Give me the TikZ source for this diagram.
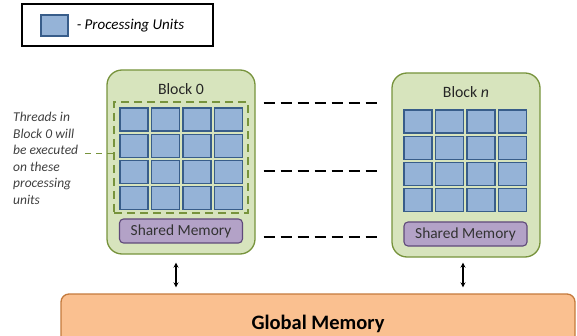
\documentclass[tikz,border=0pt]{standalone}
\usepackage{fontspec}
\setmainfont{Carlito}
\usetikzlibrary{positioning}

\definecolor{blockfill}{HTML}{D7E4BD}
\definecolor{blockline}{HTML}{77933C}
\definecolor{unitfill}{HTML}{95B3D7}
\definecolor{unitline}{HTML}{385D8A}
\definecolor{sharedfill}{HTML}{B3A2C7}
\definecolor{sharedline}{HTML}{5F497A}
\definecolor{gmemfill}{HTML}{FAC090}
\definecolor{gmemline}{HTML}{C47A3C}
\definecolor{notetext}{HTML}{404040}

\begin{document}
\begin{tikzpicture}
  [
    x=1pt, y=-1pt,
    >=stealth,
    block/.style  = {draw=blockline, fill=blockfill, line width=1.3pt, rounded corners=15pt,
                     minimum width=148pt, minimum height=184pt, inner sep=0pt},
    title/.style  = {font=\fontsize{15.8}{18}\selectfont, text=black!85},
    unit/.style   = {draw=unitline, fill=unitfill, line width=1.1pt,
                     minimum width=28pt, minimum height=23pt, inner sep=0pt},
    shared/.style = {draw=sharedline, fill=sharedfill, line width=1.1pt, rounded corners=4pt,
                     minimum width=123pt, minimum height=24pt, inner sep=0pt,
                     font=\fontsize{15.4}{17}\selectfont, text=black!80},
    group/.style  = {draw=blockline, line width=1.8pt, dash pattern=on 8pt off 5pt},
    link/.style   = {draw=black, line width=2.2pt, dash pattern=on 11pt off 6pt},
    updown/.style = {<->, line width=1.2pt},
  ]

%Frame of the whole picture
\useasboundingbox (0,0) rectangle (577,336);

%Legend
\node[draw, line width=1.5pt, minimum width=191pt, minimum height=42pt, inner sep=0pt] (legend) at (117.5,25) {};
\node[unit, minimum width=27pt, minimum height=21pt] (lunit) at (54.5,25.5) {};
\node[right=8pt of lunit, inner sep=0pt, font=\itshape\fontsize{15}{17}\selectfont] (ltext) {- Processing Units};

%Spacing of the processing units
\def \cw{31.5}
\def \rh{26.2}

%Block 0
\node[block] (blk0) at (181,162) {};
\node[title] (t0) at (181,89) {Block 0};
\node[group, minimum width=134pt, minimum height=111pt, inner sep=0pt] (grp) at (181,157.5) {};
\foreach \r in {0,...,3}
  \foreach \c in {0,...,3}
    \node[unit] (u0-\r-\c) at (134+\c*\cw, 119.5+\r*\rh) {};
\node[shared] (sm0) at (181,231) {Shared Memory};

%Block n
\node[block] (blkn) at (466,165) {};
\node[title] (tn) at (466,92) {Block \textit{n}};
\foreach \r in {0,...,3}
  \foreach \c in {0,...,3}
    \node[unit] (un-\r-\c) at (418+\c*\cw, 121.5+\r*\rh) {};
\node[shared] (smn) at (465.5,234) {Shared Memory};

%Note on the left
\node[anchor=north west, inner sep=0pt, align=left, text=notetext,
      font=\itshape\fontsize{13.5}{16.5}\selectfont] (note) at (13,112) {Threads in\\Block 0 will\\be executed\\on these\\processing\\units};
\coordinate (gw) at ([yshift=4pt]grp.west);
\draw[group, dash pattern=on 6pt off 5pt] ([xshift=7pt]note.east |- gw) -- (gw);

%Dashes between the blocks
\foreach \y in {103,171,237}
  \draw[link] ([xshift=8pt]blk0.east |- 0,\y) -- ([xshift=-14pt]blkn.west |- 0,\y);

%Global memory
\node[draw=gmemline, fill=gmemfill, line width=1.3pt, rounded corners=8pt,
      minimum width=514pt, minimum height=60pt, inner sep=0pt,
      font=\bfseries\fontsize{20.5}{22}\selectfont] (gmem) at (318,324) {Global Memory};

%Arrows to global memory
\draw[updown] ([xshift=-5pt,yshift=-8pt]blk0.south) -- ([xshift=-5pt,yshift=6pt]blk0.south |- gmem.north);
\draw[updown] ([xshift=-3pt,yshift=-5pt]blkn.south) -- ([xshift=-3pt,yshift=6pt]blkn.south |- gmem.north);

%
\end{tikzpicture}
\end{document}
